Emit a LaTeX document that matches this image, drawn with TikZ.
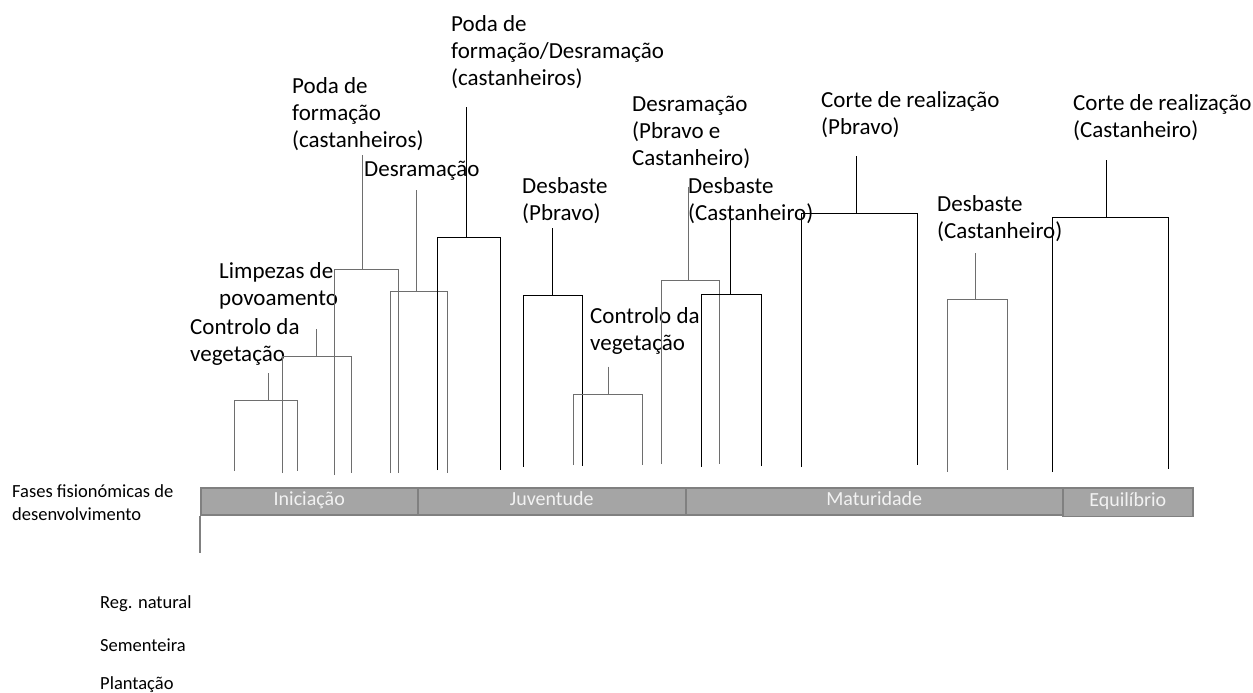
\documentclass[tikz,border=0pt]{standalone}
\usepackage{fontspec}
\setmainfont{Carlito}
\definecolor{barfill}{HTML}{A5A5A5}
\definecolor{barline}{HTML}{808080}
\definecolor{bartext}{HTML}{F2F2F2}
\definecolor{lgray}{HTML}{6E6E6E}
\tikzset{
  lbl/.style={font=\fontsize{23}{27}\selectfont, align=left, anchor=base west, inner sep=0pt},
  side/.style={font=\fontsize{18.5}{23.5}\selectfont, align=left, anchor=base west, inner sep=0pt},
  phase/.style={draw=barline, line width=1.5pt, fill=barfill, anchor=north west, inner sep=0pt,
    font=\fontsize{20}{24}\selectfont, text=bartext, text height=14pt, text depth=5pt},
  bk/.style={draw=black, line width=0.9pt},
  gy/.style={draw=lgray, line width=0.9pt},
}
\newcommand{\mybracket}[9]{%
  \coordinate (#1-t) at (#3,#4);
  \coordinate (#1-m) at (#3,#5);
  \coordinate (#1-l) at (#6,#5);
  \coordinate (#1-r) at (#7,#5);
  \coordinate (#1-lb) at (#6,#8);
  \coordinate (#1-rb) at (#7,#9);
  \draw[#2] (#1-t) -- (#1-m);
  \draw[#2] (#1-lb) -- (#1-l) -- (#1-r) -- (#1-rb);
}
\begin{document}
\begin{tikzpicture}[x=1pt,y=-1pt]
\useasboundingbox (0,0) rectangle (1253,693);

% labels (anchored at the baseline of their last line)
\node[lbl] (l1) at (190,361.5) {Controlo da\\vegetação};
\node[lbl] (l2) at (219,305) {Limpezas de\\povoamento};
\node[lbl] (l3) at (292,147.5) {Poda de\\formação\\(castanheiros)};
\node[lbl] (l4) at (364,176.5) {Desramação};
\node[lbl] (l5) at (451,85.5) {Poda de\\formação/Desramação\\(castanheiros)};
\node[lbl] (l6) at (522,220) {Desbaste\\(Pbravo)};
\node[lbl] (l7) at (590,350) {Controlo da\\vegetação};
\node[lbl] (l8) at (632,165.5) {Desramação\\(Pbravo e\\Castanheiro)};
\node[lbl] (l9) at (688,220) {Desbaste\\(Castanheiro)};
\node[lbl] (l10) at (821,134.5) {Corte de realização\\(Pbravo)};
\node[lbl] (l11) at (937,238.5) {Desbaste\\(Castanheiro)};
\node[lbl] (l12) at (1073,137.5) {Corte de realização\\(Castanheiro)};

% brackets: name, style, stem x, stem top, bar y, left x, right x, left bottom, right bottom
\mybracket{g1}{gy}{268}{373}{400.7}{234}{297}{471}{471}
\mybracket{g2}{gy}{316.7}{329}{356}{282.7}{351.3}{473}{473}
\mybracket{g3}{gy}{362.7}{155}{269}{334}{398.3}{475}{472.7}
\mybracket{g4}{gy}{416}{190}{291.7}{390}{447}{473}{472.7}
\mybracket{g5}{bk}{466}{107}{237}{437}{500}{470}{470}
\mybracket{g6}{bk}{552.7}{228}{295}{523}{582}{466.7}{466}
\mybracket{g7}{gy}{608.7}{366.7}{394}{573}{642}{465}{465}
\mybracket{g8}{gy}{688.3}{186.7}{280}{661.7}{719}{464}{464}
\mybracket{g9}{bk}{730}{220}{294}{701.7}{761.7}{466.7}{466}
\mybracket{g10}{bk}{856}{156}{213}{801.7}{917}{467}{465}
\mybracket{g11}{gy}{975}{253}{299}{947}{1007}{471.7}{470}
\mybracket{g12}{bk}{1106}{160}{217}{1052.7}{1168}{472}{469}

% phase bar
\node[phase, minimum width=217pt, minimum height=27pt] (ini) at (200,487) {Iniciação};
\node[phase, minimum width=268pt, minimum height=27pt] (juv) at (417,487) {Juventude};
\node[phase, minimum width=377pt, minimum height=27pt] (mat) at (685,487) {Maturidade};
\node[phase, minimum width=130pt, minimum height=28.5pt] (equ) at (1062,487) {Equilíbrio};
\coordinate (vb) at (200,552.5);
\draw[draw=barline, line width=1.2pt] (ini.south west) -- (vb);

% side texts
\node[side] (fases) at (12,520.5) {Fases fisionómicas de\\desenvolvimento};
\node[side] (reg) at (100,608.5) {Reg. natural};
\node[side] (sem) at (100,651) {Sementeira};
\node[side] (pla) at (100,689) {Plantação};
\end{tikzpicture}
\end{document}
